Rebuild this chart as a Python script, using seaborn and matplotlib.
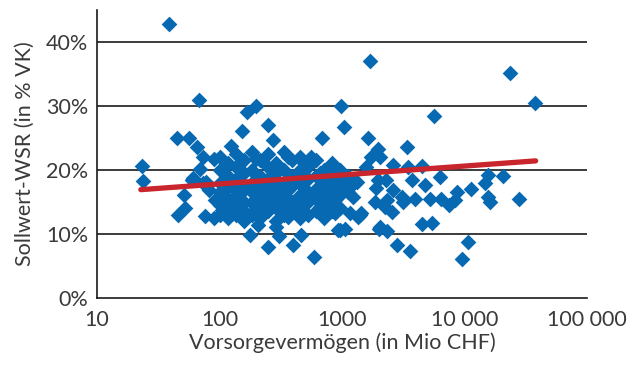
import matplotlib
matplotlib.use("Agg")
import matplotlib.pyplot as plt
import seaborn as sns
import pandas as pd
from matplotlib.ticker import FixedLocator, FixedFormatter, NullLocator

# ---- data (Vorsorgevermögen in Mio CHF, Sollwert-WSR in %) ----
outlier_x = [39, 23.4, 23.6, 68, 44.6, 56, 66, 74, 91, 69, 60, 77, 51, 52, 46, 76, 91,
             123, 153, 167, 197, 250, 272, 558, 682, 977, 1038,
             177, 207, 250, 288, 306, 401, 463, 594, 933, 1050,
             1693, 23660, 37400, 5640, 1640, 3374, 1978, 1715, 2040,
             6310, 4790, 15450, 20500, 14800, 11300, 8630, 8400, 7520, 15640, 16300, 28050,
             6400, 5230, 4470, 5470, 2020, 2330, 2800, 3590, 10600, 9460,
             877, 960, 1400, 1160, 1860, 2317, 2547, 3170, 3950, 2624, 3470, 4470, 3730,
             1980, 1910, 2280, 1162, 1240, 1000, 1584, 1320, 1340, 2040, 2250, 2620, 3100,
             770, 877, 1200, 1430,
             61, 74, 82, 92, 110, 104, 126, 128]
outlier_y = [42.8, 20.6, 18.2, 31.0, 25.0, 25.0, 23.6, 22.0, 21.7, 20.1, 18.4, 18.1, 16.0, 14.0, 12.9, 12.8, 12.4,
             23.8, 26.0, 29.1, 30.0, 27.0, 24.7, 22.0, 25.0, 30.0, 26.7,
             9.8, 11.4, 8.0, 11.1, 9.6, 8.3, 9.8, 6.3, 10.6, 10.8,
             37.0, 35.2, 30.4, 28.4, 25.0, 23.5, 23.3, 22.0, 22.0,
             18.9, 17.6, 19.2, 19.0, 18.0, 17.0, 16.6, 15.3, 14.5, 15.8, 14.9, 15.4,
             15.5, 15.5, 11.6, 11.7, 10.7, 10.5, 8.3, 7.3, 8.65, 6.0,
             13.2, 10.6, 12.9, 13.2, 15.0, 15.3, 13.4, 15.0, 15.5, 20.7, 20.5, 20.6, 18.4,
             18.4, 17.1, 18.4, 17.3, 15.8, 17.3, 20.5, 18.1, 12.7, 11.0, 14.2, 16.8, 15.8,
             17.3, 15.3, 17.9, 13.2,
             18.7, 17.9, 16.8, 15.3, 15.8, 13.7, 17.3, 13.2]

cluster_x = [101, 101, 101, 101, 101, 101,
             117, 117, 117, 117, 117, 117,
             136, 136, 136, 136, 136, 136,
             158, 158, 158, 158, 158, 158,
             184, 184, 184, 184, 184, 184,
             214, 214, 214, 214, 214, 214,
             248, 248, 248, 248, 248, 248,
             289, 289, 289, 289, 289, 289,
             336, 336, 336, 336, 336, 336,
             390, 390, 390, 390, 390,
             454, 454, 454, 454, 454, 454,
             528, 528, 528, 528, 528,
             614, 614, 614, 614, 614,
             714, 714, 714, 714, 714,
             830, 830, 830, 830, 830,
             963, 963, 963, 963,
             1120, 1120,
             146, 146, 146, 146,
             198, 198, 198, 198, 198,
             268, 268, 268, 268,
             362, 362, 362, 362, 362,
             490, 490, 490, 490,
             662, 662, 662]
cluster_y = [22.0, 20.0, 18.0, 16.5, 14.5, 13.0,
             21.0, 19.0, 17.5, 15.5, 14.0, 12.5,
             22.5, 20.5, 18.5, 16.0, 14.5, 13.0,
             21.5, 19.5, 17.0, 15.0, 13.5, 12.0,
             22.8, 20.0, 18.0, 16.5, 14.8, 13.0,
             21.5, 19.0, 17.5, 15.5, 14.0, 12.5,
             22.5, 20.5, 18.5, 16.5, 15.0, 13.5,
             21.0, 19.5, 17.0, 15.5, 14.0, 12.0,
             22.8, 20.0, 18.0, 16.0, 14.5, 13.0,
             21.5, 19.0, 17.5, 15.0, 13.5,
             22.0, 20.0, 18.0, 16.0, 14.0, 12.5,
             20.5, 18.5, 16.5, 15.0, 13.0,
             21.5, 19.0, 17.0, 15.5, 13.5,
             20.0, 18.0, 16.0, 14.5, 12.5,
             21.0, 19.0, 17.0, 15.0, 13.5,
             20.0, 18.0, 16.0, 14.0,
             19.0, 16.5,
             21.0, 17.8, 16.2, 14.0,
             21.7, 19.2, 17.2, 15.6, 13.8,
             19.8, 17.8, 16.0, 14.3,
             22.0, 18.5, 16.8, 14.8, 12.6,
             21.0, 19.2, 17.2, 15.2,
             19.5, 17.5, 14.2]

trend_x = [22.8, 38100]
trend_y = [16.9, 21.4]

x_ticks = [10, 100, 1000, 10000, 100000]
x_tick_labels = ["10", "100", "1000", "10 000", "100 000"]
y_ticks = [0, 10, 20, 30, 40]
y_tick_labels = ["0%", "10%", "20%", "30%", "40%"]

x_label = "Vorsorgevermögen (in Mio CHF)"
y_label = "Sollwert-WSR (in % VK)"

# ---- plotting ----
sns.set_style("white")
plt.rcParams["font.family"] = ["Lato", "DejaVu Sans"]
TEXT = "#3a3a3a"
FS = 15.5

df = pd.DataFrame({"x": outlier_x + cluster_x, "y": outlier_y + cluster_y})

fig = plt.figure(figsize=(6.28, 3.65), dpi=100)
ax = fig.add_axes([97 / 628, 1 - 297.7 / 365, (587 - 97) / 628, (297.7 - 10) / 365])

ax.set_xscale("log")
ax.set_xlim(10, 100000)
ax.set_ylim(0, 45)

for yv in y_ticks[1:]:
    ax.axhline(yv, color="#1a1a1a", lw=1.2, zorder=1)

sns.scatterplot(data=df, x="x", y="y", marker="D", s=64, color="#0669b2",
                linewidth=0, ax=ax, zorder=3, legend=False)
sns.lineplot(x=trend_x, y=trend_y, color="#c9252d", linewidth=3.8, ax=ax,
             zorder=4, solid_capstyle="round")

ax.xaxis.set_major_locator(FixedLocator(x_ticks))
ax.xaxis.set_major_formatter(FixedFormatter(x_tick_labels))
ax.xaxis.set_minor_locator(NullLocator())
ax.yaxis.set_major_locator(FixedLocator(y_ticks))
ax.yaxis.set_major_formatter(FixedFormatter(y_tick_labels))

for s in ["top", "right"]:
    ax.spines[s].set_visible(False)
for s in ["left", "bottom"]:
    ax.spines[s].set_color("#1a1a1a")
    ax.spines[s].set_linewidth(1.2)

ax.tick_params(axis="both", direction="out", length=4.5, width=1.2, color="#1a1a1a",
               labelsize=FS, labelcolor=TEXT)
ax.tick_params(axis="x", pad=4)
ax.tick_params(axis="y", pad=2)
ax.set_xlabel(x_label, fontsize=FS, color=TEXT, labelpad=2)
ax.set_ylabel(y_label, fontsize=FS, color=TEXT, labelpad=8)
ax.grid(False)

fig.savefig("out.png", dpi=100)
